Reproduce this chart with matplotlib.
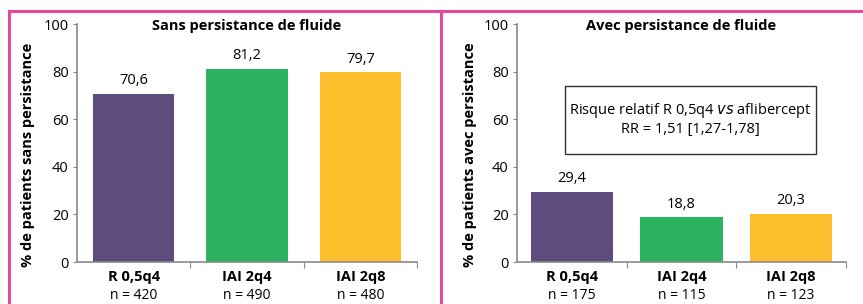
import matplotlib.pyplot as plt
from matplotlib.lines import Line2D
from matplotlib.patches import Rectangle

groups = ["R 0,5q4", "IAI 2q4", "IAI 2q8"]
colors = ["#5F4C7E", "#2BB35F", "#FDBE2B"]
sans_vals = [70.6, 81.2, 79.7]
sans_n = [420, 490, 480]
avec_vals = [29.4, 18.8, 20.3]
avec_n = [175, 115, 123]
yticks = [0, 20, 40, 60, 80, 100]

PINK = "#E8489A"
GREY = "#8A8A8A"
plt.rcParams["font.family"] = ["Open Sans", "DejaVu Sans"]


def panel(ax, vals, ns, title, ylabel, width, label_x):
    x = list(range(len(groups)))
    bars = ax.bar(x, vals, width=width, color=colors)
    ax.set_xlim(-0.5, 2.5)
    ax.set_ylim(0, 100)
    ax.set_yticks(yticks)
    ax.tick_params(axis="y", labelsize=10.5, length=3, color=GREY, pad=3)
    ax.set_xticks([0.5, 1.5, 2.5])
    ax.set_xticklabels([])
    ax.tick_params(axis="x", length=4, color=GREY)
    for s in ["top", "right"]:
        ax.spines[s].set_visible(False)
    for s in ["left", "bottom"]:
        ax.spines[s].set_color(GREY)
        ax.spines[s].set_linewidth(1.2)
    ax.text(0.5, 0.99, title, transform=ax.transAxes, ha="center", va="center",
            fontsize=10.5, fontweight="bold")
    ax.set_ylabel(ylabel, fontsize=10.5, fontweight="bold")
    ax.yaxis.set_label_coords(label_x, 0.45)
    for b, v in zip(bars, vals):
        ax.annotate(f"{v:.1f}".replace(".", ","), (b.get_x() + b.get_width() / 2, v),
                    xytext=(0, 4), textcoords="offset points",
                    ha="center", va="bottom", fontsize=10.5)
    tr = ax.get_xaxis_transform()
    for i, (g, n) in enumerate(zip(groups, ns)):
        ax.text(i, -0.063, g, transform=tr, ha="center", va="center",
                fontsize=10.5, fontweight="bold")
        ax.text(i, -0.139, f"n = {n}", transform=tr, ha="center", va="center",
                fontsize=10)


fig = plt.figure(figsize=(8.63, 3.04), dpi=100)
ax1 = fig.add_axes([77 / 863, 42 / 304, 340 / 863, 238 / 304])
ax2 = fig.add_axes([517 / 863, 42 / 304, 329 / 863, 238 / 304])

panel(ax1, sans_vals, sans_n, "Sans persistance de fluide",
      "% de patients sans persistance", 0.72, -0.124)
panel(ax2, avec_vals, avec_n, "Avec persistance de fluide",
      "% de patients avec persistance", 0.75, -0.122)

ax2.add_patch(Rectangle((0.146, 0.454), 0.763, 0.286, transform=ax2.transAxes,
                        fill=False, edgecolor="#333333", linewidth=1))
ax2.text(0.527, 0.635, "Risque relatif R 0,5q4 $\\it{vs}$ aflibercept",
         transform=ax2.transAxes, ha="center", va="center", fontsize=10.5)
ax2.text(0.527, 0.555, "RR = 1,51 [1,27-1,78]",
         transform=ax2.transAxes, ha="center", va="center", fontsize=10.5)

# pink frame
fig.add_artist(Line2D([9 / 863, 1], [1 - 11 / 304] * 2, color=PINK, lw=2.2))
fig.add_artist(Line2D([9 / 863] * 2, [0, 1 - 11 / 304], color=PINK, lw=2.2))
fig.add_artist(Line2D([441 / 863] * 2, [0, 1 - 11 / 304], color=PINK, lw=2.2))

fig.savefig("out.png", dpi=100)
